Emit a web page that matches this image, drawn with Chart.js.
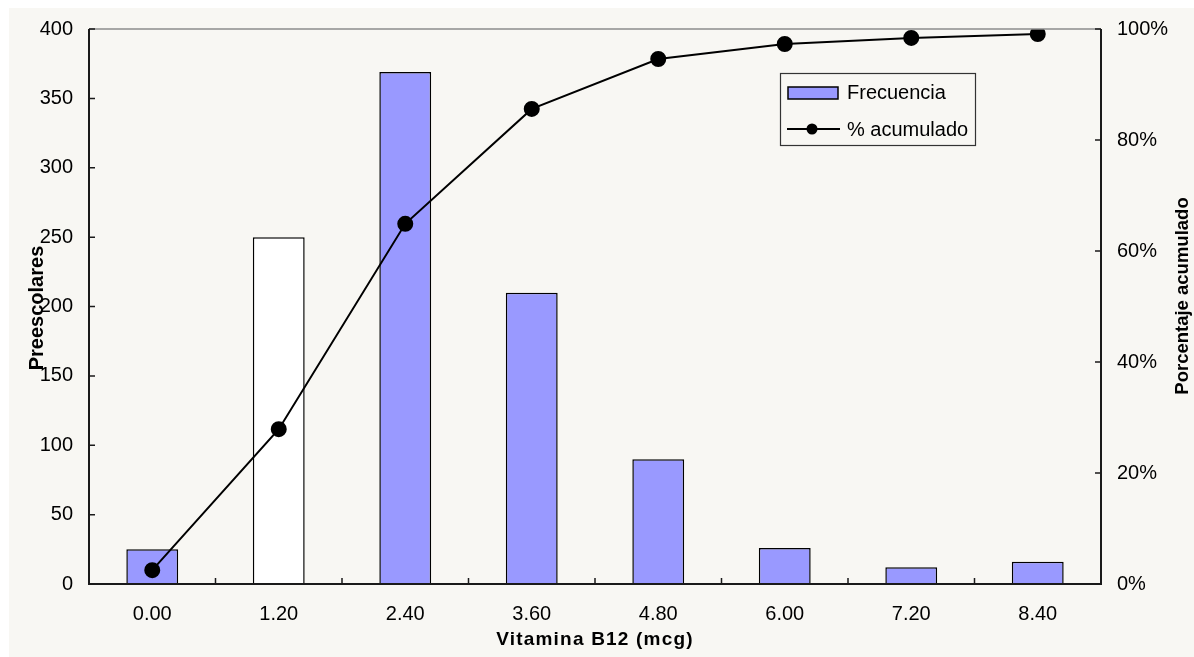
<!DOCTYPE html>
<html>
<head>
<meta charset="utf-8">
<script src="https://cdn.jsdelivr.net/npm/chart.js@4.4.1/dist/chart.umd.min.js"></script>
<style>
  html, body { margin: 0; padding: 0; background: #ffffff; }
  #wrap { width: 1194px; height: 657px; }
</style>
</head>
<body>
<div id="wrap"><canvas id="grafico"></canvas></div>
<script>
// datos
const categorias = ['0.00', '1.20', '2.40', '3.60', '4.80', '6.00', '7.20', '8.40'];
const frecuencia = [25, 250, 369, 210, 90, 26, 12, 16];
const acumulado = [2.5, 27.9, 64.9, 85.6, 94.6, 97.3, 98.4, 99.1];
const ticksIzq = [0, 50, 100, 150, 200, 250, 300, 350, 400];
const ticksDer = [0, 20, 40, 60, 80, 100];

const FUENTE = "'Liberation Sans', Arial, sans-serif";
const AZUL = '#9999ff';

// fondo, ejes con marcas hacia adentro, titulos y leyenda
const decorado = {
  id: 'decorado',
  beforeDraw(chart) {
    const c = chart.ctx;
    c.save();
    c.fillStyle = '#f8f7f3';
    c.fillRect(9, 8, chart.width - 9, chart.height - 8);
    c.restore();
  },
  afterDraw(chart) {
    const c = chart.ctx;
    const a = chart.chartArea;
    const y = chart.scales.y, y1 = chart.scales.y1, x = chart.scales.x;
    c.save();
    // borde superior gris
    c.strokeStyle = '#8c8c8c';
    c.lineWidth = 1.5;
    c.beginPath(); c.moveTo(a.left, a.top); c.lineTo(a.right, a.top); c.stroke();
    // ejes
    c.strokeStyle = '#1a1a1a';
    c.lineWidth = 2;
    c.beginPath();
    c.moveTo(a.left, a.top); c.lineTo(a.left, a.bottom); c.lineTo(a.right, a.bottom); c.lineTo(a.right, a.top);
    c.stroke();
    c.lineWidth = 1.5;
    c.beginPath();
    ticksIzq.forEach(v => { const p = y.getPixelForValue(v); c.moveTo(a.left, p); c.lineTo(a.left + 6, p); });
    ticksDer.forEach(v => { const p = y1.getPixelForValue(v); c.moveTo(a.right, p); c.lineTo(a.right - 6, p); });
    for (let i = 1; i < categorias.length; i++) {
      const p = (x.getPixelForValue(i - 1) + x.getPixelForValue(i)) / 2;
      c.moveTo(p, a.bottom); c.lineTo(p, a.bottom - 6);
    }
    c.stroke();

    // titulos de ejes
    c.fillStyle = '#000';
    c.textAlign = 'center';
    c.textBaseline = 'middle';
    c.font = 'bold 19px ' + FUENTE;
    c.letterSpacing = '1.2px';
    c.fillText('Vitamina B12 (mcg)', (a.left + a.right) / 2, 640);
    c.letterSpacing = '0px';
    c.save();
    c.translate(37, 308); c.rotate(-Math.PI / 2);
    c.font = 'bold 20px ' + FUENTE;
    c.fillText('Preescolares', 0, 0);
    c.restore();
    c.save();
    c.translate(1183, 296); c.rotate(-Math.PI / 2);
    c.font = 'bold 18.5px ' + FUENTE;
    c.fillText('Porcentaje acumulado', 0, 0);
    c.restore();

    // leyenda
    const barras = chart.data.datasets.find(d => d.type !== 'line');
    const linea = chart.data.datasets.find(d => d.type === 'line');
    c.strokeStyle = '#333';
    c.lineWidth = 1.2;
    c.strokeRect(780.5, 73.5, 195, 72);
    c.fillStyle = AZUL;
    c.fillRect(788, 87, 50, 12);
    c.strokeStyle = '#000';
    c.lineWidth = 1.5;
    c.strokeRect(788, 87, 50, 12);
    c.lineWidth = 2;
    c.beginPath(); c.moveTo(787, 129); c.lineTo(840, 129); c.stroke();
    c.fillStyle = '#000';
    c.beginPath(); c.arc(812, 129, 5.5, 0, Math.PI * 2); c.fill();
    c.font = '20px ' + FUENTE;
    c.textAlign = 'left';
    c.fillText(barras.label, 847, 93);
    c.fillText(linea.label, 847, 130);
    c.restore();
  }
};

const ctx = document.getElementById('grafico').getContext('2d');
const grafico = new Chart(ctx, {
  type: 'bar',
  data: {
    labels: categorias,
    datasets: [{
      type: 'line',
      label: '% acumulado',
      data: acumulado,
      yAxisID: 'y1',
      borderColor: '#000',
      borderWidth: 2,
      pointRadius: 7,
      pointBackgroundColor: '#000',
      pointBorderColor: '#000',
      tension: 0,
      order: 0
    }, {
      type: 'bar',
      label: 'Frecuencia',
      data: frecuencia,
      yAxisID: 'y',
      backgroundColor: c => c.dataIndex === 1 ? '#ffffff' : AZUL,
      borderColor: '#000',
      borderWidth: 1.5,
      barPercentage: 0.41,
      categoryPercentage: 1,
      order: 1
    }]
  },
  options: {
    responsive: true,
    maintainAspectRatio: false,
    animation: false,
    layout: { padding: { top: 29, left: 0, right: 0, bottom: 0 } },
    plugins: { legend: { display: false }, tooltip: { enabled: false } },
    scales: {
      x: {
        grid: { display: false, drawTicks: false },
        border: { display: false },
        ticks: { color: '#000', font: { family: FUENTE, size: 20 }, padding: 18 },
        afterFit: s => { s.height = 73; }
      },
      y: {
        position: 'left',
        min: 0, max: 400,
        grid: { display: false, drawTicks: false },
        border: { display: false },
        ticks: { stepSize: 50, color: '#000', font: { family: FUENTE, size: 20 }, padding: 16 },
        afterFit: s => { s.width = 89; }
      },
      y1: {
        position: 'right',
        min: 0, max: 100,
        grid: { display: false, drawTicks: false },
        border: { display: false },
        ticks: { stepSize: 20, color: '#000', font: { family: FUENTE, size: 20 }, padding: 16,
                 callback: v => v + '%' },
        afterFit: s => { s.width = 93; }
      }
    }
  },
  plugins: [decorado]
});
</script>
</body>
</html>
